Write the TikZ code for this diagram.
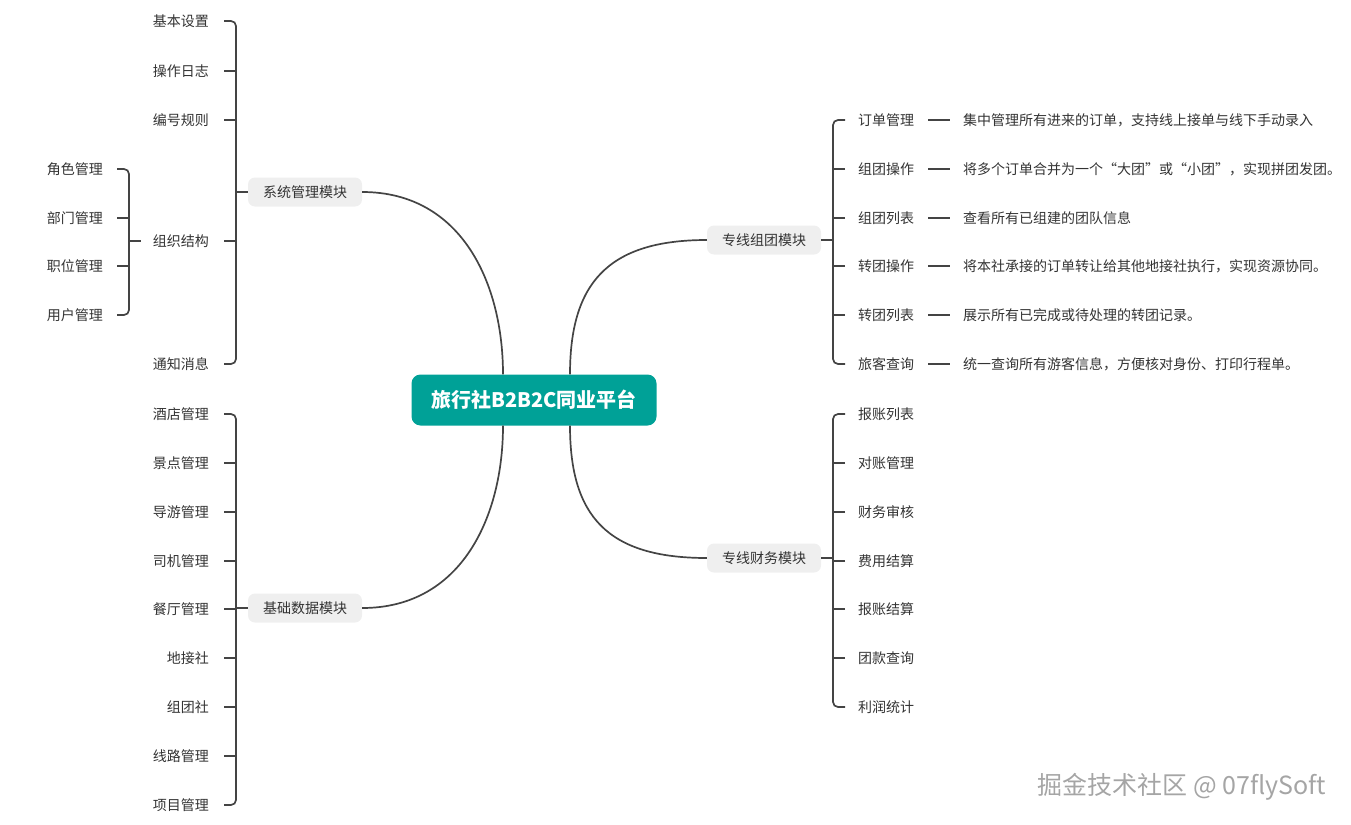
\documentclass[tikz,border=0pt]{standalone}
\usepackage{fontspec}
\setmainfont{Noto Sans CJK SC}
\definecolor{rootteal}{RGB}{0,161,151}
\definecolor{boxgray}{RGB}{239,239,239}
\definecolor{linegray}{RGB}{68,68,68}
\definecolor{txtgray}{RGB}{51,51,51}
\definecolor{wmgray}{RGB}{165,165,165}
\begin{document}
\begin{tikzpicture}[x=1pt,y=-1pt,
  leaf/.style={font=\fontsize{14}{16}\selectfont, text=txtgray, inner sep=0pt},
  lleaf/.style={leaf, anchor=east},
  rleaf/.style={leaf, anchor=west},
  topic/.style={fill=boxgray, rounded corners=7pt, minimum width=114pt, minimum height=29pt, inner sep=0pt, font=\fontsize{14}{16}\selectfont, text=txtgray},
  root/.style={fill=rootteal, rounded corners=9pt, minimum width=245pt, minimum height=51pt, inner sep=0pt, text=white, font=\fontsize{20}{24}\selectfont\bfseries},
  link/.style={linegray, line width=1.7pt},
  brace/.style={link, rounded corners=5pt}]
\useasboundingbox (0,0) rectangle (1351,824);
% centre and the four modules
\node[root] (c) at (534,400) {旅行社B2B2C同业平台};
\node[topic] (sys) at (305,192) {系统管理模块};
\node[topic] (base) at (305,608) {基础数据模块};
\node[topic] (grp) at (764,240) {专线组团模块};
\node[topic] (fin) at (764,558) {专线财务模块};
\coordinate (ls) at (236,0);
\coordinate (os) at (129,0);
\coordinate (rs) at (833,0);
% system management
\node[lleaf] (s1) at (209,21) {基本设置};
\node[lleaf] (s2) at (209,71) {操作日志};
\node[lleaf] (s3) at (209,120) {编号规则};
\node[lleaf] (s4) at (209,241) {组织结构};
\node[lleaf] (s5) at (209,364) {通知消息};
\node[lleaf] (o1) at (103,169) {角色管理};
\node[lleaf] (o2) at (103,218) {部门管理};
\node[lleaf] (o3) at (103,266) {职位管理};
\node[lleaf] (o4) at (103,315) {用户管理};
% base data
\node[lleaf] (b1) at (209,414) {酒店管理};
\node[lleaf] (b2) at (209,463) {景点管理};
\node[lleaf] (b3) at (209,512) {导游管理};
\node[lleaf] (b4) at (209,561) {司机管理};
\node[lleaf] (b5) at (209,609) {餐厅管理};
\node[lleaf] (b6) at (209,658) {地接社};
\node[lleaf] (b7) at (209,707) {组团社};
\node[lleaf] (b8) at (209,756) {线路管理};
\node[lleaf] (b9) at (209,805) {项目管理};
% group tours
\node[rleaf] (g1) at (858,120) {订单管理};
\node[rleaf] (g2) at (858,169) {组团操作};
\node[rleaf] (g3) at (858,218) {组团列表};
\node[rleaf] (g4) at (858,266) {转团操作};
\node[rleaf] (g5) at (858,315) {转团列表};
\node[rleaf] (g6) at (858,364) {旅客查询};
\node[rleaf] (d1) at (963,120) {集中管理所有进来的订单，支持线上接单与线下手动录入};
\node[rleaf] (d2) at (963,169) {将多个订单合并为一个“大团”或“小团”，实现拼团发团。};
\node[rleaf] (d3) at (963,218) {查看所有已组建的团队信息};
\node[rleaf] (d4) at (963,266) {将本社承接的订单转让给其他地接社执行，实现资源协同。};
\node[rleaf] (d5) at (963,315) {展示所有已完成或待处理的转团记录。};
\node[rleaf] (d6) at (963,364) {统一查询所有游客信息，方便核对身份、打印行程单。};
% finance
\node[rleaf] (f1) at (858,414) {报账列表};
\node[rleaf] (f2) at (858,463) {对账管理};
\node[rleaf] (f3) at (858,512) {财务审核};
\node[rleaf] (f4) at (858,561) {费用结算};
\node[rleaf] (f5) at (858,609) {报账结算};
\node[rleaf] (f6) at (858,658) {团款查询};
\node[rleaf] (f7) at (858,707) {利润统计};
\node[font=\fontsize{25}{29}\selectfont, text=wmgray] (wm) at (1182,787) {掘金技术社区 @ 07flySoft};
% branches from the centre
\draw[link] ([xshift=-31]c.north) .. controls +(0,-90) and +(100,0) .. (sys.east);
\draw[link] ([xshift=-31]c.south) .. controls +(0,90) and +(100,0) .. (base.east);
\draw[link] ([xshift=36]c.north) .. controls +(0,-90) and +(-100,0) .. (grp.west);
\draw[link] ([xshift=36]c.south) .. controls +(0,90) and +(-100,0) .. (fin.west);
% system brackets
\draw[link] (sys.west -| ls) -- (sys.west);
\draw[brace] ([xshift=15]s1.east) -- (s1.east -| ls) -- (s5.east -| ls) -- ([xshift=15]s5.east);
\draw[link] ([xshift=15]s2.east) -- (s2.east -| ls);
\draw[link] ([xshift=15]s3.east) -- (s3.east -| ls);
\draw[link] ([xshift=15]s4.east) -- (s4.east -| ls);
\draw[link] (s4.west -| os) -- ([xshift=-12]s4.west);
\draw[brace] ([xshift=14]o1.east) -- (o1.east -| os) -- (o4.east -| os) -- ([xshift=14]o4.east);
\draw[link] ([xshift=14]o2.east) -- (o2.east -| os);
\draw[link] ([xshift=14]o3.east) -- (o3.east -| os);
% base data bracket
\draw[link] (base.west -| ls) -- (base.west);
\draw[brace] ([xshift=15]b1.east) -- (b1.east -| ls) -- (b9.east -| ls) -- ([xshift=15]b9.east);
\draw[link] ([xshift=15]b2.east) -- (b2.east -| ls);
\draw[link] ([xshift=15]b3.east) -- (b3.east -| ls);
\draw[link] ([xshift=15]b4.east) -- (b4.east -| ls);
\draw[link] ([xshift=15]b5.east) -- (b5.east -| ls);
\draw[link] ([xshift=15]b6.east) -- (b6.east -| ls);
\draw[link] ([xshift=15]b7.east) -- (b7.east -| ls);
\draw[link] ([xshift=15]b8.east) -- (b8.east -| ls);
% group tour bracket
\draw[link] (grp.east) -- (grp.east -| rs);
\draw[brace] ([xshift=-13]g1.west) -- (g1.west -| rs) -- (g6.west -| rs) -- ([xshift=-13]g6.west);
\draw[link] ([xshift=-13]g2.west) -- (g2.west -| rs);
\draw[link] ([xshift=-13]g3.west) -- (g3.west -| rs);
\draw[link] ([xshift=-13]g4.west) -- (g4.west -| rs);
\draw[link] ([xshift=-13]g5.west) -- (g5.west -| rs);
\draw[link] ([xshift=14]g1.east) -- ([xshift=-13]d1.west);
\draw[link] ([xshift=14]g2.east) -- ([xshift=-13]d2.west);
\draw[link] ([xshift=14]g3.east) -- ([xshift=-13]d3.west);
\draw[link] ([xshift=14]g4.east) -- ([xshift=-13]d4.west);
\draw[link] ([xshift=14]g5.east) -- ([xshift=-13]d5.west);
\draw[link] ([xshift=14]g6.east) -- ([xshift=-13]d6.west);
% finance bracket
\draw[link] (fin.east) -- (fin.east -| rs);
\draw[brace] ([xshift=-13]f1.west) -- (f1.west -| rs) -- (f7.west -| rs) -- ([xshift=-13]f7.west);
\draw[link] ([xshift=-13]f2.west) -- (f2.west -| rs);
\draw[link] ([xshift=-13]f3.west) -- (f3.west -| rs);
\draw[link] ([xshift=-13]f4.west) -- (f4.west -| rs);
\draw[link] ([xshift=-13]f5.west) -- (f5.west -| rs);
\draw[link] ([xshift=-13]f6.west) -- (f6.west -| rs);
\end{tikzpicture}
\end{document}
